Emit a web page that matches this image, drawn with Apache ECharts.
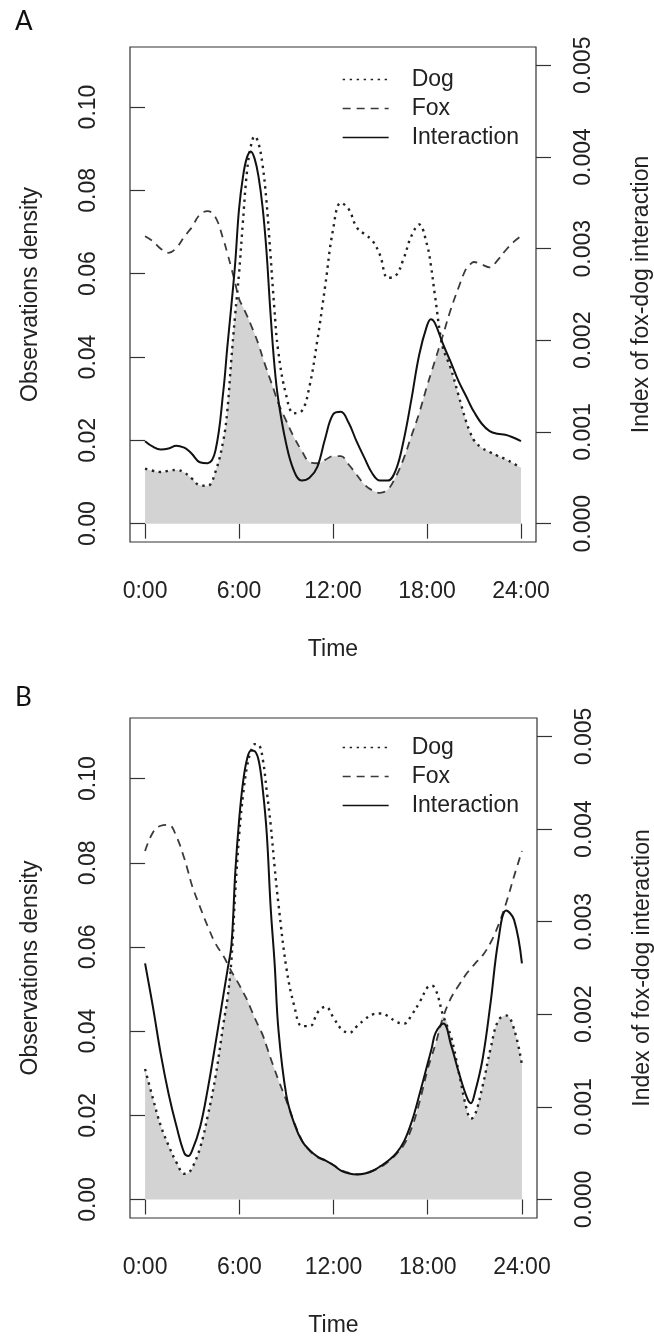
<!DOCTYPE html>
<html>
<head>
<meta charset="utf-8">
<title>Fox-dog interaction</title>
<script src="https://cdn.jsdelivr.net/npm/echarts@6/dist/echarts.min.js"></script>
<style>
	html, body { margin: 0; padding: 0; background: #fff; }
	#chart { width: 654px; height: 1336px; }
</style>
</head>
<body>
<div id="chart"></div>
<script>
// time of day (hours), denser where the curves turn sharply
let hours = [0, 0.5, 1, 1.5, 2, 2.5, 2.75, 3, 3.5, 4, 4.5, 5, 5.25, 5.5, 5.75, 6, 6.25, 6.5, 6.75, 7, 7.25,
	7.5, 7.75, 8, 8.25, 8.5, 9, 9.5, 10, 10.5, 11, 11.5, 12, 12.5, 13, 13.5, 14, 14.5, 15, 15.5, 16, 16.5,
	17, 17.5, 18, 18.25, 18.5, 19, 19.5, 20, 20.5, 20.75, 21, 21.5, 22, 22.5, 23, 23.5, 24];

// panel A
let dogA = [0.0132, 0.0127, 0.0124, 0.0127, 0.0129, 0.0123, 0.0116, 0.0108, 0.0092, 0.0091, 0.0125, 0.0200,
	0.0270, 0.0390, 0.0500, 0.0600, 0.0725, 0.0842, 0.0905, 0.0930, 0.0912, 0.0862, 0.0775, 0.0650, 0.0520,
	0.0415, 0.0310, 0.0265, 0.0270, 0.0330, 0.0440, 0.0570, 0.0705, 0.0770, 0.0755, 0.0712, 0.0695, 0.0680,
	0.0645, 0.0590, 0.0595, 0.0635, 0.0690, 0.0718, 0.0670, 0.0620, 0.0550, 0.0425, 0.0375, 0.0310, 0.0245,
	0.0220, 0.0200, 0.0182, 0.0172, 0.0163, 0.0155, 0.0145, 0.0134];
let foxA = [0.0690, 0.0678, 0.0660, 0.0650, 0.0662, 0.0688, 0.0700, 0.0712, 0.0742, 0.0750, 0.0735, 0.0682,
	0.0650, 0.0615, 0.0578, 0.0540, 0.0520, 0.0500, 0.0478, 0.0455, 0.0430, 0.0400, 0.0372, 0.0345, 0.0318,
	0.0290, 0.0248, 0.0208, 0.0175, 0.0148, 0.0145, 0.0153, 0.0162, 0.0162, 0.0142, 0.0118, 0.0094, 0.0080,
	0.0074, 0.0082, 0.0112, 0.0155, 0.0210, 0.0265, 0.0330, 0.0360, 0.0390, 0.0450, 0.0512, 0.0565, 0.0612,
	0.0622, 0.0628, 0.0622, 0.0615, 0.0632, 0.0655, 0.0675, 0.0690];
let interA = [0.00090, 0.00084, 0.00081, 0.00082, 0.00085, 0.00083, 0.00080, 0.00076, 0.00067, 0.00066,
	0.00080, 0.00145, 0.00192, 0.00236, 0.00283, 0.00343, 0.00378, 0.00399, 0.00406, 0.00398, 0.00378,
	0.00346, 0.00298, 0.00232, 0.00175, 0.00136, 0.00088, 0.00058, 0.00047, 0.00050, 0.00062, 0.00093,
	0.00119, 0.00122, 0.00110, 0.00090, 0.00072, 0.00055, 0.00047, 0.00047, 0.00058, 0.00090, 0.00135,
	0.00184, 0.00216, 0.00223, 0.00219, 0.00197, 0.00177, 0.00156, 0.00139, 0.00130, 0.00122, 0.00109,
	0.00101, 0.00098, 0.00097, 0.00094, 0.00090];

// panel B
let dogB = [0.0310, 0.0240, 0.0175, 0.0128, 0.0088, 0.0061, 0.0063, 0.0075, 0.0122, 0.0200, 0.0295, 0.0420,
	0.0478, 0.0570, 0.0735, 0.0870, 0.0965, 0.1030, 0.1066, 0.1082, 0.1080, 0.1045, 0.0970, 0.0890, 0.0790,
	0.0700, 0.0550, 0.0460, 0.0412, 0.0412, 0.0445, 0.0458, 0.0432, 0.0405, 0.0396, 0.0412, 0.0428, 0.0440,
	0.0442, 0.0435, 0.0422, 0.0418, 0.0440, 0.0470, 0.0505, 0.0508, 0.0500, 0.0435, 0.0385, 0.0298, 0.0212,
	0.0192, 0.0200, 0.0270, 0.0358, 0.0426, 0.0437, 0.0405, 0.0320];
let foxB = [0.0828, 0.0872, 0.0888, 0.0890, 0.0862, 0.0810, 0.0778, 0.0745, 0.0695, 0.0648, 0.0607, 0.0578,
	0.0560, 0.0542, 0.0526, 0.0510, 0.0492, 0.0474, 0.0452, 0.0430, 0.0410, 0.0390, 0.0363, 0.0335, 0.0309,
	0.0283, 0.0235, 0.0183, 0.0140, 0.0115, 0.0100, 0.0092, 0.0082, 0.0070, 0.0063, 0.0060, 0.0062, 0.0068,
	0.0077, 0.0090, 0.0108, 0.0131, 0.0172, 0.0235, 0.0310, 0.0340, 0.0370, 0.0435, 0.0480, 0.0510, 0.0538,
	0.0549, 0.0560, 0.0580, 0.0610, 0.0652, 0.0705, 0.0768, 0.0828];
let interB = [0.00255, 0.00208, 0.00157, 0.00114, 0.00079, 0.00050, 0.00047, 0.00053, 0.00078, 0.00120,
	0.00170, 0.00222, 0.00248, 0.00275, 0.00355, 0.00412, 0.00452, 0.00476, 0.00485, 0.00484, 0.00473,
	0.00442, 0.00395, 0.00315, 0.00255, 0.00182, 0.00112, 0.00082, 0.00063, 0.00053, 0.00046, 0.00042,
	0.00037, 0.00031, 0.00028, 0.00027, 0.00028, 0.00031, 0.00036, 0.00042, 0.00050, 0.00063, 0.00085,
	0.00115, 0.00147, 0.00163, 0.00180, 0.00190, 0.00166, 0.00136, 0.00110, 0.00104, 0.00115, 0.00152,
	0.00212, 0.00280, 0.00312, 0.00302, 0.00255];

// tick labels
let timeTicks = [0, 6, 12, 18, 24];
let densityTicks = [0, 0.02, 0.04, 0.06, 0.08, 0.10];
let indexTicks = [0, 0.001, 0.002, 0.003, 0.004, 0.005];
let legendNames = ['Dog', 'Fox', 'Interaction'];

let font = 'Liberation Sans';
let ink = '#222';

function pairs(values) {
	return hours.map((h, i) => [h, values[i]]);
}

// grey area = where both species overlap
function overlap(dog, fox) {
	return hours.map((h, i) => [h, Math.min(dog[i], fox[i])]);
}

function xAxisFor(gridIndex) {
	return {
		type: 'value', gridIndex: gridIndex, min: -0.96, max: 24.96,
		name: 'Time', nameLocation: 'middle', nameGap: 96,
		nameTextStyle: { fontFamily: font, fontSize: 23, color: ink },
		axisLine: { show: false },
		axisTick: { show: true, length: 15, customValues: timeTicks, lineStyle: { color: '#333', width: 1.2 } },
		axisLabel: {
			customValues: timeTicks, margin: 38, fontFamily: font, fontSize: 23, color: ink,
			formatter: v => v + ':00'
		},
		splitLine: { show: false }
	};
}

function leftAxis(gridIndex) {
	return {
		type: 'value', gridIndex: gridIndex, position: 'left', min: -0.0044, max: 0.1144,
		name: 'Observations density', nameLocation: 'middle', nameGap: 88, nameRotate: 90,
		nameTextStyle: { fontFamily: font, fontSize: 23, color: ink },
		axisLine: { show: false },
		axisTick: { show: true, length: 15, customValues: densityTicks, lineStyle: { color: '#333', width: 1.2 } },
		axisLabel: {
			customValues: densityTicks, rotate: 90, margin: 30, fontFamily: font, fontSize: 23, color: ink,
			formatter: v => v.toFixed(2)
		},
		splitLine: { show: false }
	};
}

function rightAxis(gridIndex) {
	return {
		type: 'value', gridIndex: gridIndex, position: 'right', min: -0.0002, max: 0.0052,
		name: 'Index of fox-dog interaction', nameLocation: 'middle', nameGap: 94, nameRotate: 90,
		nameTextStyle: { fontFamily: font, fontSize: 23, color: ink },
		axisLine: { show: false },
		axisTick: { show: true, length: 15, customValues: indexTicks, lineStyle: { color: '#333', width: 1.2 } },
		axisLabel: {
			customValues: indexTicks, rotate: 90, margin: 36, fontFamily: font, fontSize: 23, color: ink,
			formatter: v => v.toFixed(3)
		},
		splitLine: { show: false }
	};
}

function panelSeries(xIdx, yLeft, yRight, dog, fox, inter) {
	return [
		{
			name: 'Overlap', type: 'line', xAxisIndex: xIdx, yAxisIndex: yLeft, data: overlap(dog, fox),
			symbol: 'none', smooth: 0.4, z: 1, silent: true,
			lineStyle: { width: 0 }, areaStyle: { color: '#d3d3d3', opacity: 1 }
		},
		{
			name: 'Dog', type: 'line', xAxisIndex: xIdx, yAxisIndex: yLeft, data: pairs(dog),
			symbol: 'none', smooth: 0.4, z: 3, itemStyle: { color: '#222' },
			lineStyle: { color: '#222', width: 2.4, type: [2.4, 4.6], cap: 'butt' }
		},
		{
			name: 'Fox', type: 'line', xAxisIndex: xIdx, yAxisIndex: yLeft, data: pairs(fox),
			symbol: 'none', smooth: 0.4, z: 3, itemStyle: { color: '#3a3a3a' },
			lineStyle: { color: '#3a3a3a', width: 1.8, type: [8, 6] }
		},
		{
			name: 'Interaction', type: 'line', xAxisIndex: xIdx, yAxisIndex: yRight, data: pairs(inter),
			symbol: 'none', smooth: 0.4, z: 4, itemStyle: { color: '#111' },
			lineStyle: { color: '#111', width: 2 }
		}
	];
}

function legendAt(top) {
	return {
		data: legendNames, orient: 'vertical', left: 342, top: top, padding: 0,
		itemWidth: 46, itemHeight: 14, itemGap: 6, selectedMode: false,
		itemStyle: { opacity: 0, borderWidth: 0 },
		lineStyle: { width: 1.3 },
		textStyle: { fontFamily: font, fontSize: 23, lineHeight: 23, color: ink, padding: [0, 0, 0, 18] }
	};
}

let myChart = echarts.init(document.getElementById('chart'), null, { renderer: 'canvas' });

let option = {
	animation: false,
	backgroundColor: '#fff',
	grid: [
		{
			left: 130, top: 47, width: 406, height: 495, outerBoundsMode: 'none',
			show: true, borderColor: '#333', borderWidth: 1.2, backgroundColor: 'transparent'
		},
		{
			left: 130, top: 718, width: 407, height: 500, outerBoundsMode: 'none',
			show: true, borderColor: '#333', borderWidth: 1.2, backgroundColor: 'transparent'
		}
	],
	xAxis: [xAxisFor(0), xAxisFor(1)],
	yAxis: [leftAxis(0), rightAxis(0), leftAxis(1), rightAxis(1)],
	legend: [legendAt(68), legendAt(736)],
	graphic: [
		{ type: 'text', left: 15, top: 9, style: { text: 'A', font: '26px Lato', fill: '#111' } },
		{ type: 'text', left: 15, top: 685, style: { text: 'B', font: '26px Lato', fill: '#111' } }
	],
	series: [].concat(
		panelSeries(0, 0, 1, dogA, foxA, interA),
		panelSeries(1, 2, 3, dogB, foxB, interB)
	)
};

myChart.setOption(option);
</script>
</body>
</html>
